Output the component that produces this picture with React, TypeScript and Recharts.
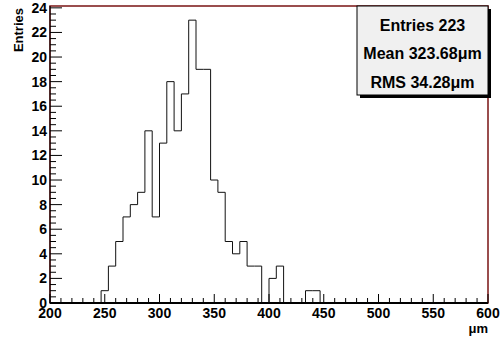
import React from "react";
import { LineChart, Line, XAxis, YAxis, ReferenceArea } from "recharts";

// Histogram binning
const xMin = 200;
const xMax = 600;
const binCount = 60;
const yMax = 24.15;

// Entries per bin (60 bins of width 6.67 µm)
const counts = [
  0, 0, 0, 0, 0, 0, 0,
  1, 3, 5, 7, 8, 9, 14, 7, 13, 18, 14, 17, 23, 19, 19, 10, 9, 5, 4, 5, 3, 3,
  0, 2, 3, 0, 0, 0, 1, 1,
  0, 0, 0, 0, 0, 0, 0, 0, 0, 0, 0, 0, 0, 0, 0, 0, 0, 0, 0, 0, 0, 0, 0,
];

const xMajorTicks = [200, 250, 300, 350, 400, 450, 500, 550, 600];
const yMajorTicks = [0, 2, 4, 6, 8, 10, 12, 14, 16, 18, 20, 22, 24];

const statsLines = ["Entries 223", "Mean 323.68\u03bcm", "RMS 34.28\u03bcm"];

const xTicks: number[] = [];
for (let v = xMin; v <= xMax; v += 10) xTicks.push(v);
const yTicks: number[] = [];
for (let v = 0; v <= 24; v += 0.5) yTicks.push(v);

const binWidth = (xMax - xMin) / binCount;
const data = counts
  .map((c, i) => ({ x: xMin + i * binWidth, n: c }))
  .concat([{ x: xMax, n: 0 }]);

const FONT = "'Liberation Sans', Arial, Helvetica, sans-serif";

const XTick = (props: any) => {
  const { x, y, payload } = props;
  const major = xMajorTicks.includes(payload.value);
  return (
    <g>
      <line x1={x} x2={x} y1={y} y2={y - (major ? 9 : 5)} stroke="#000" strokeWidth={1} />
      {major && (
        <text
          x={x}
          y={y + 15}
          textAnchor="middle"
          fontFamily={FONT}
          fontWeight="bold"
          fontSize={14}
          fill="#000"
        >
          {payload.value}
        </text>
      )}
    </g>
  );
};

const YTick = (props: any) => {
  const { x, y, payload } = props;
  const major = yMajorTicks.includes(payload.value);
  return (
    <g>
      <line x1={x} x2={x + (major ? 12 : 6)} y1={y} y2={y} stroke="#000" strokeWidth={1} />
      {major && (
        <text
          x={x - 3}
          y={y + 5}
          textAnchor="end"
          fontFamily={FONT}
          fontWeight="bold"
          fontSize={14}
          fill="#000"
        >
          {payload.value}
        </text>
      )}
    </g>
  );
};

export default function App() {
  return (
    <div style={{ position: "absolute", left: 0, top: 0, width: 500, height: 337, background: "#fff" }}>
      <LineChart
        width={500}
        height={337}
        data={data}
        margin={{ top: 6, right: 12, bottom: 0, left: 0 }}
      >
        <ReferenceArea
          x1={xMin}
          x2={xMax}
          y1={0}
          y2={yMax}
          fill="none"
          stroke="#7a1414"
          strokeWidth={1.5}
          fillOpacity={0}
        />
        <XAxis
          dataKey="x"
          type="number"
          domain={[xMin, xMax]}
          ticks={xTicks}
          interval={0}
          tickSize={0}
          tickMargin={0}
          tickLine={false}
          tick={XTick}
          axisLine={{ stroke: "#000", strokeWidth: 2 }}
          height={34}
          allowDataOverflow
        />
        <YAxis
          type="number"
          domain={[0, yMax]}
          ticks={yTicks}
          interval={0}
          tickSize={0}
          tickMargin={0}
          tickLine={false}
          tick={YTick}
          axisLine={{ stroke: "#000", strokeWidth: 1 }}
          width={50}
          allowDataOverflow
        />
        <Line
          type="stepAfter"
          dataKey="n"
          stroke="#111"
          strokeWidth={1}
          dot={false}
          activeDot={false}
          isAnimationActive={false}
        />
      </LineChart>
      <svg
        width={500}
        height={337}
        style={{ position: "absolute", left: 0, top: 0, pointerEvents: "none" }}
      >
        <text
          transform="translate(22.5, 8) rotate(-90)"
          textAnchor="end"
          fontFamily={FONT}
          fontWeight="bold"
          fontSize={13}
          fill="#000"
        >
          Entries
        </text>
        <text
          x={488}
          y={333}
          textAnchor="end"
          fontFamily={FONT}
          fontWeight="bold"
          fontSize={13}
          fill="#000"
        >
          {"\u03bcm"}
        </text>
        <rect x={360} y={9} width={131} height={89} fill="#000" />
        <rect x={357} y={6} width={131} height={89} fill="#f0f0f0" stroke="#000" strokeWidth={1} />
        {statsLines.map((s, i) => (
          <text
            key={s}
            x={422.5}
            y={31 + i * 28.3}
            textAnchor="middle"
            fontFamily={FONT}
            fontWeight="bold"
            fontSize={16}
            fill="#000"
          >
            {s}
          </text>
        ))}
      </svg>
    </div>
  );
}
